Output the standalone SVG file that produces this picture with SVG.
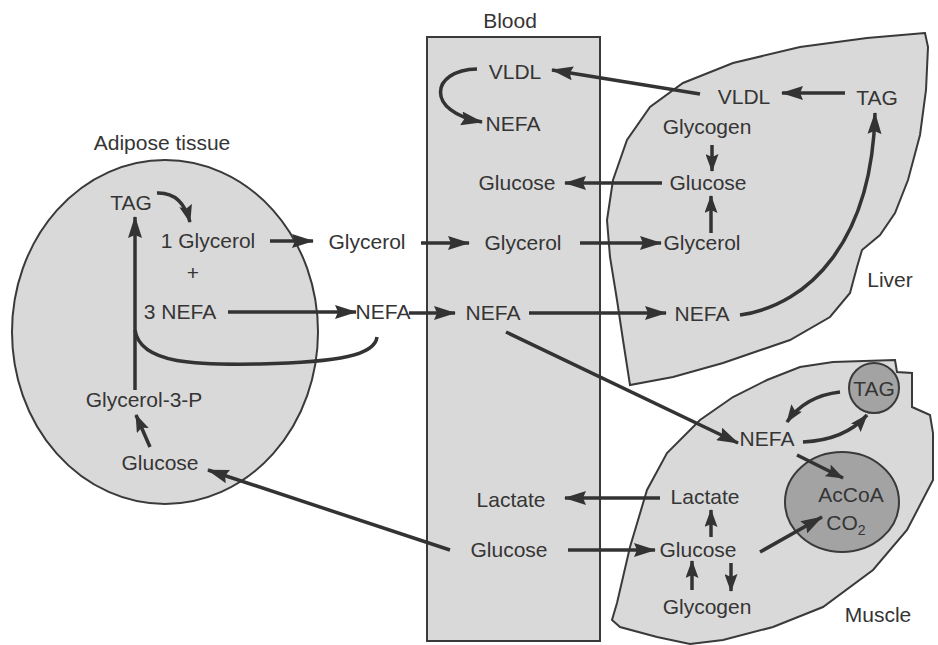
<svg xmlns="http://www.w3.org/2000/svg" width="938" height="645" viewBox="0 0 938 645">
<defs>
<marker id="ah" markerUnits="userSpaceOnUse" markerWidth="22" markerHeight="14" refX="21" refY="7" orient="auto"><path d="M0,0 L22,7 L0,14 L3,7 z" fill="#333"/></marker>
<marker id="ahs" markerUnits="userSpaceOnUse" markerWidth="18" markerHeight="13" refX="17" refY="6.5" orient="auto"><path d="M0,0 L18,6.5 L0,13 L3,6.5 z" fill="#333"/></marker>
</defs>
<style>
text{font-family:"Liberation Sans",Arial,Helvetica,sans-serif;font-size:21px;fill:#353535;text-anchor:middle}
.lbl{font-size:21px}
.tissue{fill:#d9d9d9;stroke:#3a3a3a;stroke-width:2}
.org{fill:#a3a3a3;stroke:#3a3a3a;stroke-width:2}
.c{fill:none;stroke:#333;stroke-width:3.5;marker-end:url(#ah)}
.cs{fill:none;stroke:#333;stroke-width:3.5;marker-end:url(#ahs)}
.n{fill:none;stroke:#333;stroke-width:3.5}
</style>
<rect width="938" height="645" fill="#fff"/>

<g id="adipose">
<ellipse class="tissue" cx="165" cy="332" rx="153" ry="172"/>
<text class="lbl" x="162" y="150">Adipose tissue</text>
</g>
<g id="blood">
<rect class="tissue" x="427" y="37" width="173" height="604"/>
<text class="lbl" x="510" y="28">Blood</text>
</g>
<g id="liver">
<path class="tissue" d="M925,33 L867,38 L800,47 L733,63 L683,83 L650,107 L627,140 L613,180 L607,220 L610,257 L617,300 L623,340 L630,385 L673,377 L723,363 L790,340 L830,317 L850,293 L857,267 L862,250 L880,235 L895,213 L908,180 L920,135 L926,90 L928,47 Z"/>
<text class="lbl" x="890" y="287">Liver</text>
</g>
<g id="muscle">
<path class="tissue" d="M895,360 L833,362 L800,367 L767,380 L733,397 L700,420 L667,453 L647,490 L630,547 L617,603 L612,620 L620,627 L657,637 L690,644 L723,640 L773,627 L823,607 L873,570 L907,530 L933,480 L933,433 L930,415 L912,407 L912,373 L897,372 Z"/>
<text class="lbl" x="878" y="622">Muscle</text>
</g>
<g id="muscle-tag">
<circle class="org" cx="874" cy="388" r="25"/>
<text x="874" y="395.5">TAG</text>
</g>
<g id="muscle-accoa">
<ellipse class="org" cx="842" cy="502" rx="57" ry="50"/>
<text x="851" y="502">AcCoA</text>
<text x="846" y="530">CO<tspan font-size="14" dy="5">2</tspan></text>
</g>

<g id="connectors">
<path class="cs" d="M157,193 Q182,192 190,222"/>
<path class="c" d="M270,241 L313,241"/>
<path class="c" d="M228,312 L356,312"/>
<path class="c" d="M409,313 L455,313"/>
<path class="c" d="M421,243 L469,243"/>
<path class="c" d="M580,243 L661,243"/>
<path class="cs" d="M711,233 L711,196"/>
<path class="cs" d="M712,145 L712,171"/>
<path class="c" d="M662,183 L565,183"/>
<path class="c" d="M845,93 L782,93"/>
<path class="c" d="M700,94 L552,70"/>
<path class="c" d="M477,69 C430,70 425,112 482,122"/>
<path class="c" d="M529,313 L666,313"/>
<path class="c" d="M740,315 C810,305 872,240 875,113"/>
<path class="c" d="M135,390 L135,217"/>
<path class="n" d="M135,330 C140,365 200,365 260,364 C340,362 375,355 377,337"/>
<path class="cs" d="M150,447 L136,415"/>
<path class="c" d="M450,550 L208,470"/>
<path class="c" d="M506,332 L738,443"/>
<path class="cs" d="M840,392 Q805,396 787,422"/>
<path class="cs" d="M803,442 Q845,440 867,415"/>
<path class="cs" d="M797,455 L843,478"/>
<path class="c" d="M660,498 L565,498"/>
<path class="cs" d="M711,537 L711,510"/>
<path class="c" d="M568,550 L655,550"/>
<path class="c" d="M760,552 L822,517"/>
<path class="cs" d="M692,590 L692,561"/>
<path class="cs" d="M731,563 L731,591"/>
</g>

<g id="n-tag-a"><text x="131" y="210">TAG</text></g>
<g id="n-glycerol1"><text x="208" y="248">1 Glycerol</text></g>
<g id="n-plus"><text x="193" y="280">+</text></g>
<g id="n-nefa3"><text x="180" y="319">3 NEFA</text></g>
<g id="n-glycerol3p"><text x="144" y="407">Glycerol-3-P</text></g>
<g id="n-glucose-a"><text x="160" y="470">Glucose</text></g>
<g id="n-glycerol-out"><text x="367" y="249">Glycerol</text></g>
<g id="n-nefa-out"><text x="383" y="319">NEFA</text></g>

<g id="n-vldl-b"><text x="515" y="79">VLDL</text></g>
<g id="n-nefa-b1"><text x="513" y="131">NEFA</text></g>
<g id="n-glucose-b1"><text x="517" y="190">Glucose</text></g>
<g id="n-glycerol-b"><text x="523" y="250">Glycerol</text></g>
<g id="n-nefa-b2"><text x="493" y="320">NEFA</text></g>
<g id="n-lactate-b"><text x="511" y="507">Lactate</text></g>
<g id="n-glucose-b2"><text x="509" y="557">Glucose</text></g>

<g id="n-vldl-l"><text x="744" y="104">VLDL</text></g>
<g id="n-tag-l"><text x="877" y="105">TAG</text></g>
<g id="n-glycogen-l"><text x="707" y="134">Glycogen</text></g>
<g id="n-glucose-l"><text x="708" y="190">Glucose</text></g>
<g id="n-glycerol-l"><text x="702" y="250">Glycerol</text></g>
<g id="n-nefa-l"><text x="702" y="321">NEFA</text></g>

<g id="n-nefa-m"><text x="767" y="446">NEFA</text></g>
<g id="n-lactate-m"><text x="705" y="504">Lactate</text></g>
<g id="n-glucose-m"><text x="698" y="557">Glucose</text></g>
<g id="n-glycogen-m"><text x="707" y="614">Glycogen</text></g>
</svg>
